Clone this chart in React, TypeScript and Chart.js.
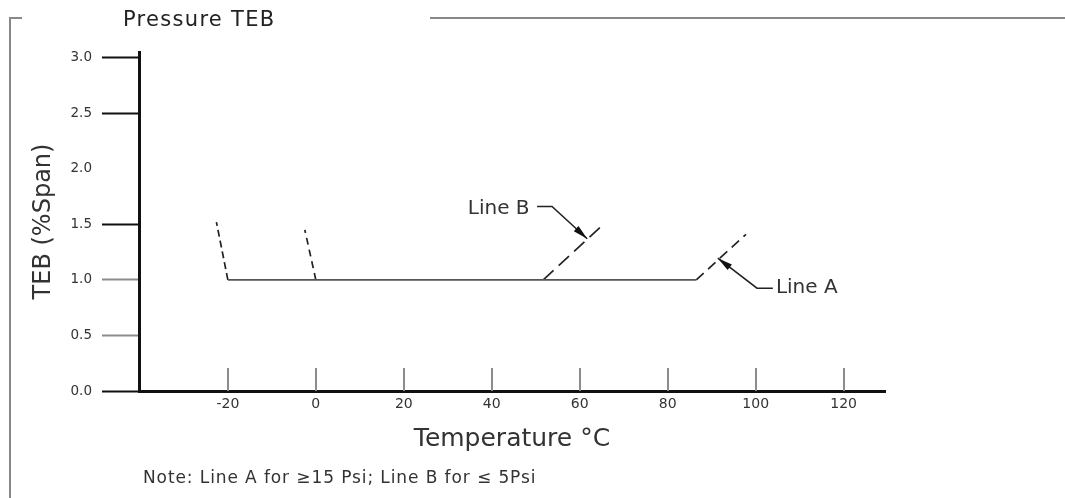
import React, { useEffect, useRef } from "react";
import { Chart, registerables } from "chart.js";

Chart.register(...registerables);

// ---- data ----
const xTicks = [-20, 0, 20, 40, 60, 80, 100, 120];
const yTicks = [0, 0.5, 1.0, 1.5, 2.0, 2.5, 3.0];
const yTicksNoMark = [2.0];
const yTicksLight = [0.5, 1.0];

const baseLine = [
  { x: -20, y: 1.0 },
  { x: 86.5, y: 1.0 },
];
const dashLeft = [
  { x: -20, y: 1.0 },
  { x: -22.6, y: 1.52 },
];
const dashZero = [
  { x: 0, y: 1.0 },
  { x: -2.5, y: 1.45 },
];
const lineB = [
  { x: 51.7, y: 1.0 },
  { x: 65.4, y: 1.5 },
];
const lineA = [
  { x: 86.5, y: 1.0 },
  { x: 97.8, y: 1.41 },
];
const leaderB = [
  { x: 50.3, y: 1.66 },
  { x: 53.7, y: 1.66 },
  { x: 61.7, y: 1.37 },
];
const leaderA = [
  { x: 103.9, y: 0.925 },
  { x: 100.3, y: 0.925 },
  { x: 91.4, y: 1.195 },
];
const labelTexts = ["Line B", "Line A"];
const labelPoints = [
  { x: 48.6, y: 1.64 },
  { x: 104.6, y: 0.925 },
];
const labelAlign = ["right", "left"];

const titleText = "Pressure TEB";
const noteText = "Note: Line A for \u226515 Psi; Line B for \u2264 5Psi";
const xTitle = "Temperature \u00b0C";
const yTitle = "TEB (%Span)";

const FONT = '"DejaVu Sans", "Noto Sans", sans-serif';

const decorPlugin = {
  id: "decor",
  afterDatasetsDraw(chart: any) {
    const { ctx, chartArea } = chart;
    const xs = chart.scales.x;
    const ys = chart.scales.y;
    ctx.save();
    // upward x tick marks
    ctx.strokeStyle = "#8c8c8c";
    ctx.lineWidth = 2;
    for (const v of xTicks) {
      const px = Math.round(xs.getPixelForValue(v));
      ctx.beginPath();
      ctx.moveTo(px, chartArea.bottom - 23);
      ctx.lineTo(px, chartArea.bottom);
      ctx.stroke();
    }
    // arrowheads on leaders
    ctx.fillStyle = "#111";
    for (const pts of [leaderB, leaderA]) {
      const a = pts[pts.length - 2];
      const b = pts[pts.length - 1];
      const ax = xs.getPixelForValue(a.x);
      const ay = ys.getPixelForValue(a.y);
      const bx = xs.getPixelForValue(b.x);
      const by = ys.getPixelForValue(b.y);
      const ang = Math.atan2(by - ay, bx - ax);
      const len = 15;
      const w = 3.5;
      const c = Math.cos(ang);
      const s = Math.sin(ang);
      ctx.beginPath();
      ctx.moveTo(bx, by);
      ctx.lineTo(bx - len * c + w * s, by - len * s - w * c);
      ctx.lineTo(bx - len * c - w * s, by - len * s + w * c);
      ctx.closePath();
      ctx.fill();
    }
    // labels
    ctx.font = "20px " + FONT;
    ctx.fillStyle = "#333";
    ctx.textBaseline = "middle";
    labelTexts.forEach((t, i) => {
      const p = labelPoints[i];
      ctx.textAlign = labelAlign[i];
      ctx.fillText(t, xs.getPixelForValue(p.x), ys.getPixelForValue(p.y));
    });
    ctx.restore();
  },
};

export default function App() {
  const ref = useRef<HTMLCanvasElement | null>(null);

  useEffect(() => {
    if (!ref.current) return;
    const lineDs = (data: any, color: string, width: number, dash: number[]) => ({
      data,
      showLine: true,
      borderColor: color,
      borderWidth: width,
      borderDash: dash,
      pointRadius: 0,
      fill: false,
      clip: false,
    });
    const chart = new Chart(ref.current, {
      type: "scatter",
      data: {
        datasets: [
          lineDs(baseLine, "#555", 1.6, []),
          lineDs(dashLeft, "#222", 1.7, [7, 4]),
          lineDs(dashZero, "#222", 1.7, [7, 5]),
          lineDs(lineB, "#222", 1.7, [14, 7]),
          lineDs(lineA, "#222", 1.7, [10, 6]),
          lineDs(leaderB, "#222", 1.6, []),
          lineDs(leaderA, "#222", 1.6, []),
        ] as any,
      },
      options: {
        animation: false,
        responsive: false,
        devicePixelRatio: 1,
        events: [],
        layout: { padding: { top: 52, left: 0, right: 180, bottom: 0 } },
        plugins: {
          legend: { display: false },
          tooltip: { enabled: false },
          title: { display: false },
        },
        scales: {
          x: {
            type: "linear",
            min: -40.2,
            max: 129.4,
            afterFit: (s: any) => {
              s.height = 107;
            },
            afterBuildTicks: (s: any) => {
              s.ticks = xTicks.map((v) => ({ value: v }));
            },
            grid: { display: true, drawOnChartArea: false, drawTicks: false },
            border: { display: true, color: "#111", width: 3 },
            ticks: {
              autoSkip: false,
              maxRotation: 0,
              padding: 5,
              color: "#333",
              font: { family: FONT, size: 14 },
            },
            title: {
              display: true,
              text: xTitle,
              color: "#333",
              font: { family: FONT, size: 25 },
              padding: { top: 0, bottom: 44 },
            },
          },
          y: {
            type: "linear",
            min: 0,
            max: 3.05,
            afterFit: (s: any) => {
              s.width = 139;
            },
            afterBuildTicks: (s: any) => {
              s.ticks = yTicks.map((v) => ({ value: v }));
            },
            grid: {
              display: true,
              drawOnChartArea: false,
              drawTicks: true,
              tickLength: 37,
              tickWidth: 2,
              tickColor: (c: any) => {
                const v = c.tick ? c.tick.value : null;
                if (v !== null && yTicksNoMark.some((t) => Math.abs(t - v) < 1e-6)) return "rgba(0,0,0,0)";
                if (v !== null && yTicksLight.some((t) => Math.abs(t - v) < 1e-6)) return "#8c8c8c";
                return "#111";
              },
            },
            border: { display: true, color: "#111", width: 3 },
            ticks: {
              autoSkip: false,
              padding: 10,
              color: "#333",
              font: { family: FONT, size: 13.5 },
              callback: (v: any) => Number(v).toFixed(1),
            },
            title: {
              display: true,
              text: yTitle,
              color: "#333",
              font: { family: FONT, size: 24 },
              padding: { top: 29, bottom: 0 },
            },
          },
        },
      } as any,
      plugins: [decorPlugin],
    });
    return () => chart.destroy();
  }, []);

  return (
    <div
      style={{
        position: "absolute",
        left: 0,
        top: 0,
        width: 1065,
        height: 498,
        overflow: "hidden",
        background: "#fff",
      }}
    >
      <canvas
        ref={ref}
        width={1065}
        height={498}
        style={{ position: "absolute", left: 0, top: 0, width: 1065, height: 498 }}
      />
      {/* frame lines */}
      <div style={{ position: "absolute", left: 9, top: 17, width: 2, height: 481, background: "#888" }} />
      <div style={{ position: "absolute", left: 9, top: 17, width: 13, height: 2, background: "#888" }} />
      <div style={{ position: "absolute", left: 430, top: 17, width: 635, height: 2, background: "#888" }} />
      <div
        style={{
          position: "absolute",
          left: 123,
          top: 9,
          fontFamily: FONT,
          fontSize: 21,
          lineHeight: "21px",
          letterSpacing: "1.3px",
          color: "#222",
          whiteSpace: "nowrap",
        }}
      >
        {titleText}
      </div>
      <div
        style={{
          position: "absolute",
          left: 143,
          top: 469,
          fontFamily: FONT,
          fontSize: 17,
          lineHeight: "17px",
          letterSpacing: "0.9px",
          color: "#333",
          whiteSpace: "nowrap",
        }}
      >
        {noteText}
      </div>
    </div>
  );
}
